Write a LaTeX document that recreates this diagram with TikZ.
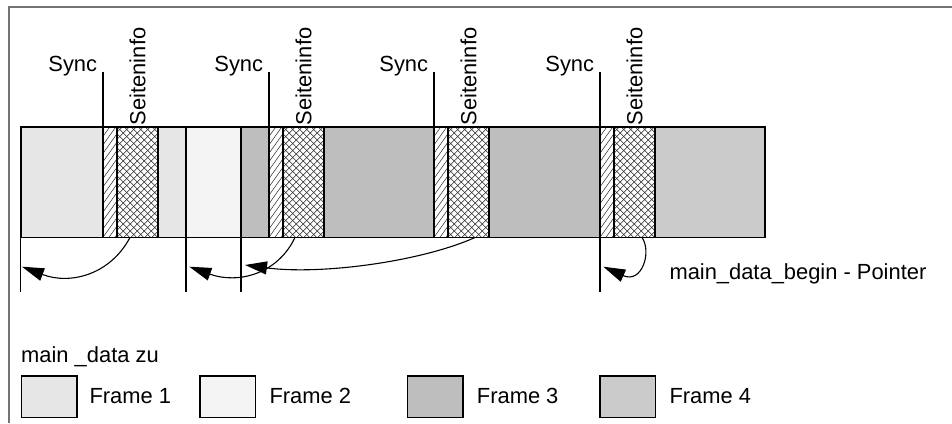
\documentclass[tikz,border=0pt]{standalone}
\usepackage{fontspec}
\setmainfont{Liberation Sans}
\usetikzlibrary{arrows.meta}
\definecolor{fone}{HTML}{E6E6E6}
\definecolor{ftwo}{HTML}{F4F4F4}
\definecolor{fthree}{HTML}{BEBEBE}
\definecolor{ffour}{HTML}{CBCBCB}
\definecolor{frameg}{HTML}{737373}
\begin{document}
\begin{tikzpicture}[x=1pt,y=-1pt,
  font=\fontsize{21.9}{25}\selectfont,
  seg/.style={draw=black,line width=1.6pt,inner sep=0pt,outer sep=0pt,anchor=north west,minimum height=110.6pt},
  hl/.style={line width=0.5pt,black!85},
  syncbox/.style={seg,fill=white,path picture={
      \foreach \k in {-90,-84,...,24}
        \draw[hl] ([xshift=\k pt]path picture bounding box.south west) -- ++(80,-112);}},
  infobox/.style={seg,fill=white,path picture={
      \foreach \k in {-119,-112,...,48}{
        \draw[hl] ([xshift=\k pt]path picture bounding box.south west) -- ++(120,-120);
        \draw[hl] ([xshift=\k pt]path picture bounding box.north west) -- ++(120,120);}}},
  lbl/.style={inner sep=0pt,anchor=base west},
  synclbl/.style={inner sep=0pt,anchor=base east},
  infolbl/.style={inner sep=0pt,rotate=90,anchor=west},
  tick/.style={line width=1.1pt},
  ptr/.style={line width=1.1pt,-{Triangle[length=22pt,width=13pt]}},
  legbox/.style={draw=black,line width=1.6pt,inner sep=0pt,anchor=north west,minimum width=55.5pt,minimum height=41.7pt}
]
\useasboundingbox[fill=white] (0,0) rectangle (952,423);
% outer frame
\draw[frameg,line width=2pt] (8.7,423) -- (8.7,7.3) -- (952,7.3);

% bar segments
\node[seg,fill=fone,minimum width=82.3pt] (f1a) at (20.7,126.7) {};
\node[syncbox,minimum width=14pt] (s1) at (103,126.7) {};
\node[infobox,minimum width=41pt] (i1) at (117,126.7) {};
\node[seg,fill=fone,minimum width=28pt] (f1b) at (158,126.7) {};
\node[seg,fill=ftwo,minimum width=55pt] (f2) at (186,126.7) {};
\node[seg,fill=fthree,minimum width=28pt] (f3a) at (241,126.7) {};
\node[syncbox,minimum width=14pt] (s2) at (269,126.7) {};
\node[infobox,minimum width=41pt] (i2) at (283,126.7) {};
\node[seg,fill=fthree,minimum width=110pt] (f3b) at (324,126.7) {};
\node[syncbox,minimum width=14pt] (s3) at (434,126.7) {};
\node[infobox,minimum width=41pt] (i3) at (448,126.7) {};
\node[seg,fill=fthree,minimum width=111pt] (f3c) at (489,126.7) {};
\node[syncbox,minimum width=14pt] (s4) at (600,126.7) {};
\node[infobox,minimum width=41pt] (i4) at (614,126.7) {};
\node[seg,fill=ffour,minimum width=110pt] (f4) at (655,126.7) {};

% Sync labels and leader lines
\coordinate (c1) at (103,71.7);
\coordinate (c2) at (269,71.7);
\coordinate (c3) at (434,71.7);
\coordinate (c4) at (600,71.7);
\node[synclbl] (sy1) at (97.3,71.5) {Sync};
\node[synclbl] (sy2) at (263.3,71.5) {Sync};
\node[synclbl] (sy3) at (428.3,71.5) {Sync};
\node[synclbl] (sy4) at (594.3,71.5) {Sync};
\draw[tick] (c1) -- (s1.north west);
\draw[tick] (c2) -- (s2.north west);
\draw[tick] (c3) -- (s3.north west);
\coordinate (d4) at (600,292);
\draw[tick] (c4) -- (d4);

% Seiteninfo labels
\node[infolbl] (t1) at (137.5,125.3) {Seiteninfo};
\node[infolbl] (t2) at (303.5,125.3) {Seiteninfo};
\node[infolbl] (t3) at (468.5,125.3) {Seiteninfo};
\node[infolbl] (t4) at (634.5,125.3) {Seiteninfo};

% lower ticks
\coordinate (d1) at (20.7,292);
\coordinate (d2) at (186,292);
\coordinate (d3) at (241,292);
\draw[tick] (f1a.south west) -- (d1);
\draw[tick] (f2.south west) -- (d2);
\draw[tick] (f3a.south west) -- (d3);

% pointers
\coordinate (a1s) at (130,237.5);
\coordinate (a1e) at (22,266.7);
\coordinate (a2s) at (295,237.5);
\coordinate (a2e) at (189.3,266.7);
\coordinate (a3s) at (475,237.5);
\coordinate (a3e) at (245,265);
\coordinate (a4s) at (642,237.5);
\coordinate (a4e) at (603.3,266.7);
\draw[ptr] (a1s) .. controls (110,275) and (70,285) .. (a1e);
\draw[ptr] (a2s) .. controls (277,275) and (237,284) .. (a2e);
\draw[ptr] (a3s) .. controls (420,262) and (320,275) .. (a3e);
\draw[ptr] (a4s) .. controls (652,252) and (642,284) .. (a4e);
\node[lbl] (ptrlbl) at (669.3,279.5) {main\_data\_begin - Pointer};

% legend
\node[lbl] (leg) at (21,362) {main \_data zu};
\node[legbox,fill=fone] (l1) at (20.7,375) {};
\node[lbl] (l1t) at (89.3,403) {Frame 1};
\node[legbox,fill=ftwo] (l2) at (199.3,375) {};
\node[lbl] (l2t) at (269.3,403) {Frame 2};
\node[legbox,fill=fthree] (l3) at (406.7,375) {};
\node[lbl] (l3t) at (476.7,403) {Frame 3};
\node[legbox,fill=ffour] (l4) at (599.3,375) {};
\node[lbl] (l4t) at (669.3,403) {Frame 4};
\end{tikzpicture}
\end{document}
